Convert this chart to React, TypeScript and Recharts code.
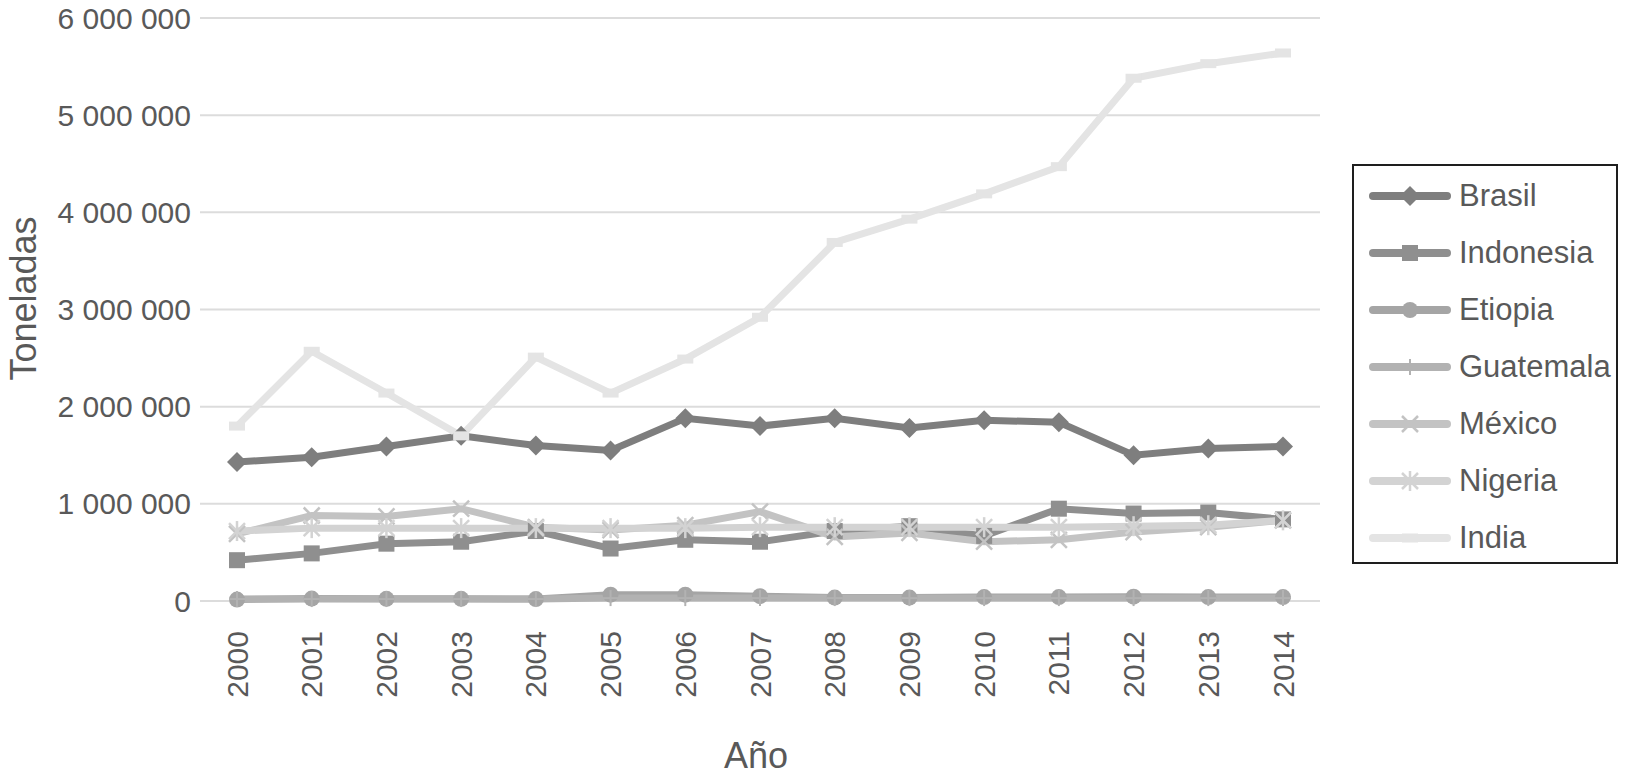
import React from "react";
import { LineChart, Line, XAxis, YAxis, CartesianGrid, Legend } from "recharts";

// Datos (toneladas)
const years = ["2000", "2001", "2002", "2003", "2004", "2005", "2006", "2007", "2008", "2009", "2010", "2011", "2012", "2013", "2014"];
const brasil = [1430000, 1480000, 1590000, 1700000, 1600000, 1550000, 1880000, 1800000, 1880000, 1780000, 1860000, 1840000, 1500000, 1570000, 1590000];
const indonesia = [420000, 490000, 590000, 610000, 720000, 540000, 630000, 610000, 720000, 770000, 670000, 950000, 900000, 910000, 840000];
const etiopia = [15000, 25000, 22000, 22000, 20000, 65000, 65000, 50000, 35000, 35000, 40000, 40000, 45000, 40000, 40000];
const guatemala = [20000, 20000, 20000, 20000, 20000, 30000, 30000, 30000, 30000, 30000, 30000, 30000, 30000, 30000, 30000];
const mexico = [690000, 880000, 870000, 950000, 760000, 730000, 780000, 920000, 660000, 700000, 610000, 630000, 710000, 760000, 830000];
const nigeria = [720000, 750000, 750000, 750000, 750000, 750000, 750000, 760000, 760000, 760000, 760000, 760000, 770000, 780000, 830000];
const india = [1800000, 2570000, 2140000, 1700000, 2510000, 2140000, 2490000, 2920000, 3690000, 3930000, 4190000, 4470000, 5380000, 5530000, 5640000];
const yTicks = [0, 1000000, 2000000, 3000000, 4000000, 5000000, 6000000];

const data = years.map((year, i) => ({
  year,
  Brasil: brasil[i],
  Indonesia: indonesia[i],
  Etiopia: etiopia[i],
  Guatemala: guatemala[i],
  México: mexico[i],
  Nigeria: nigeria[i],
  India: india[i],
}));

const FONT = "'Liberation Sans', Arial, Helvetica, sans-serif";
const TEXT = "#595959";
const GRID = "#dcdcdc";

type MarkerKind = "diamond" | "square" | "circle" | "plus" | "x" | "star" | "dash";

const drawMarker = (kind: MarkerKind, cx: number, cy: number, color: string, key?: string | number) => {
  switch (kind) {
    case "diamond":
      return <path key={key} d={`M${cx},${cy - 10} L${cx + 10},${cy} L${cx},${cy + 10} L${cx - 10},${cy} Z`} fill={color} />;
    case "square":
      return <rect key={key} x={cx - 8} y={cy - 8} width={16} height={16} fill={color} />;
    case "circle":
      return <circle key={key} cx={cx} cy={cy} r={8} fill={color} />;
    case "plus":
      return (
        <g key={key} stroke={color} strokeWidth={2}>
          <line x1={cx - 8} y1={cy} x2={cx + 8} y2={cy} />
          <line x1={cx} y1={cy - 8} x2={cx} y2={cy + 8} />
        </g>
      );
    case "x":
      return (
        <g key={key} stroke={color} strokeWidth={2.5}>
          <line x1={cx - 8} y1={cy - 8} x2={cx + 8} y2={cy + 8} />
          <line x1={cx - 8} y1={cy + 8} x2={cx + 8} y2={cy - 8} />
        </g>
      );
    case "star":
      return (
        <g key={key} stroke={color} strokeWidth={2.5}>
          <line x1={cx - 8} y1={cy - 8} x2={cx + 8} y2={cy + 8} />
          <line x1={cx - 8} y1={cy + 8} x2={cx + 8} y2={cy - 8} />
          <line x1={cx} y1={cy - 10} x2={cx} y2={cy + 10} />
        </g>
      );
    case "dash":
      return <rect key={key} x={cx - 8} y={cy - 4.5} width={16} height={9} fill={color} />;
  }
};

const series: { key: string; color: string; marker: MarkerKind }[] = [
  { key: "Brasil", color: "#7e7e7e", marker: "diamond" },
  { key: "Indonesia", color: "#8f8f8f", marker: "square" },
  { key: "Etiopia", color: "#a5a5a5", marker: "circle" },
  { key: "Guatemala", color: "#b2b2b2", marker: "plus" },
  { key: "México", color: "#c3c3c3", marker: "x" },
  { key: "Nigeria", color: "#d3d3d3", marker: "star" },
  { key: "India", color: "#e4e4e4", marker: "dash" },
];

const formatTons = (v: number) => v.toLocaleString("en-US").replace(/,/g, " ");

const YTick = (props: any) => {
  const { x, y, payload } = props;
  return (
    <text x={x} y={y} dy="0.35em" textAnchor="end" fill={TEXT} fontSize={30} fontFamily={FONT}>
      {formatTons(payload.value)}
    </text>
  );
};

const XTick = (props: any) => {
  const { x, y, payload } = props;
  return (
    <text x={x} y={y} dy="0.35em" textAnchor="end" transform={`rotate(-90, ${x}, ${y})`} fill={TEXT} fontSize={30} fontFamily={FONT}>
      {payload.value}
    </text>
  );
};

const YTitle = (props: any) => {
  const { viewBox } = props;
  const cx = viewBox.x + 23;
  const cy = viewBox.y + viewBox.height / 2 - 11;
  return (
    <text x={cx} y={cy} dy="0.35em" textAnchor="middle" transform={`rotate(-90, ${cx}, ${cy})`} fill={TEXT} fontSize={36} fontFamily={FONT}>
      Toneladas
    </text>
  );
};

const XTitle = (props: any) => {
  const { viewBox } = props;
  const cx = viewBox.x + viewBox.width / 2 - 4;
  return (
    <text x={cx} y={755} dy="0.35em" textAnchor="middle" fill={TEXT} fontSize={36} fontFamily={FONT}>
      Año
    </text>
  );
};

const renderLegend = () => (
  <div
    style={{
      boxSizing: "border-box",
      width: 266,
      height: 400,
      border: "2px solid #1e1e1e",
      background: "#fff",
      paddingTop: 1,
    }}
  >
    {series.map((s) => (
      <div key={s.key} style={{ display: "flex", alignItems: "center", height: 57.1 }}>
        <svg width={100} height={30} style={{ flex: "none" }}>
          <line x1={19} y1={15} x2={93} y2={15} stroke={s.color} strokeWidth={8} strokeLinecap="round" />
          {drawMarker(s.marker, 56, 15, s.color)}
        </svg>
        <span style={{ fontFamily: FONT, fontSize: 31, color: TEXT, marginLeft: 5, whiteSpace: "nowrap" }}>{s.key}</span>
      </div>
    ))}
  </div>
);

export default function App() {
  return (
    <div style={{ position: "absolute", left: 0, top: 0, background: "#fff" }}>
      <LineChart width={1629} height={776} data={data} margin={{ top: 18, right: 309, bottom: 0, left: 0 }}>
        <CartesianGrid vertical={false} stroke={GRID} strokeWidth={2} />
        <XAxis
          dataKey="year"
          axisLine={false}
          tickLine={false}
          interval={0}
          tickMargin={24}
          height={175}
          padding={{ left: 37, right: 37 }}
          tick={<XTick />}
          label={<XTitle />}
        />
        <YAxis
          width={200}
          domain={[0, 6000000]}
          ticks={yTicks}
          axisLine={false}
          tickLine={false}
          tickMargin={3}
          tick={<YTick />}
          label={<YTitle />}
        />
        <Legend
          layout="vertical"
          align="center"
          verticalAlign="middle"
          wrapperStyle={{ left: 1352, top: 164, width: 266, height: 400 }}
          content={renderLegend}
        />
        {series.map((s) => (
          <Line
            key={s.key}
            type="linear"
            dataKey={s.key}
            stroke={s.color}
            strokeWidth={7}
            isAnimationActive={false}
            dot={(p: any) => drawMarker(s.marker, p.cx, p.cy, s.color, `${s.key}-${p.index}`)}
            activeDot={false}
          />
        ))}
      </LineChart>
    </div>
  );
}
